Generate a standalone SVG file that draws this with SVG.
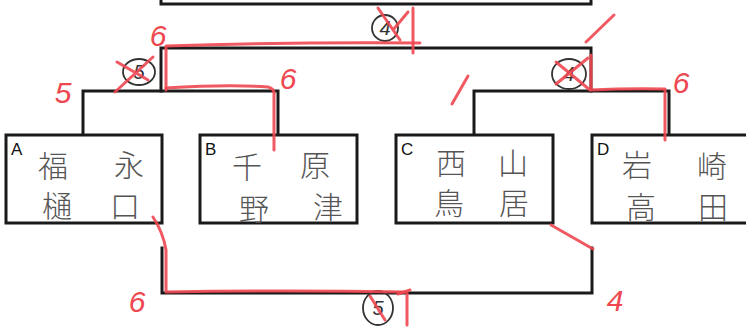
<svg xmlns="http://www.w3.org/2000/svg" width="746" height="329" viewBox="0 0 746 329">
<style>
.ln{fill:none;stroke:#1a1a1a;stroke-width:3;stroke-linecap:square}
.box{fill:#fff;stroke:#1a1a1a;stroke-width:3}
.lbl{font-family:"Liberation Sans",Arial,sans-serif;font-size:17px;fill:#111}
.kj{font-family:"Noto Sans CJK JP","Noto Sans CJK SC",sans-serif;font-weight:300;font-size:30px;fill:#555;text-anchor:middle}
.red{fill:none;stroke:#ee4750;stroke-width:3;stroke-linecap:round;stroke-linejoin:round;opacity:0.9}
.rn{font-family:"Liberation Sans",Arial,sans-serif;font-style:italic;font-size:30px;fill:#ee4750;text-anchor:middle}
.cn{font-family:"Liberation Sans",Arial,sans-serif;font-style:italic;font-size:20px;fill:#333;text-anchor:middle}
.cc{fill:none;stroke:#333;stroke-width:1.8}
</style>
<rect width="746" height="329" fill="#fff"/>
<g id="connectors">
<path class="ln" d="M161,0 V4 H591 V0"/>
<path class="ln" d="M161,91 V48 H591 V91"/>
<path class="ln" d="M83,135 V91 H278 V135"/>
<path class="ln" d="M474,135 V91 H669 V135"/>
<path class="ln" d="M162,248 V293 H592 V248"/>
</g>
<g id="node-A">
<rect class="box" x="6" y="135" width="156" height="88"/>
<text class="lbl" x="11" y="155">A</text>
<text class="kj" x="53" y="177">福</text>
<text class="kj" x="129" y="176">永</text>
<text class="kj" x="57" y="217">樋</text>
<text class="kj" x="125" y="217">口</text>
</g>
<g id="node-B">
<rect class="box" x="200" y="135" width="157" height="88"/>
<text class="lbl" x="205" y="155">B</text>
<text class="kj" x="247" y="178">千</text>
<text class="kj" x="315" y="176">原</text>
<text class="kj" x="254" y="220">野</text>
<text class="kj" x="328" y="218">津</text>
</g>
<g id="node-C">
<rect class="box" x="396" y="135" width="157" height="88"/>
<text class="lbl" x="401" y="155">C</text>
<text class="kj" x="451" y="174">西</text>
<text class="kj" x="513" y="174">山</text>
<text class="kj" x="449" y="214">鳥</text>
<text class="kj" x="514" y="214">居</text>
</g>
<g id="node-D">
<rect class="box" x="592" y="135" width="170" height="88"/>
<text class="lbl" x="597" y="155">D</text>
<text class="kj" x="637" y="176">岩</text>
<text class="kj" x="712" y="177">崎</text>
<text class="kj" x="641" y="218">高</text>
<text class="kj" x="713" y="218">田</text>
</g>
<g id="circled">
<ellipse class="cc" cx="139" cy="72" rx="16" ry="13"/>
<text class="cn" x="139" y="79">5</text>
<ellipse class="cc" cx="385" cy="28" rx="13" ry="13"/>
<text class="cn" x="385" y="35">4</text>
<ellipse class="cc" cx="569" cy="74" rx="17" ry="15"/>
<text class="cn" x="569" y="81">4</text>
<ellipse class="cc" cx="378" cy="308" rx="15" ry="17"/>
<text class="cn" x="378" y="315">5</text>
</g>
<g id="red-marks">
<path class="red" d="M166,90 V46 Q290,42 420,43"/>
<path class="red" d="M166,88 Q230,84 268,87 Q275,89 274,95 V150"/>
<path class="red" d="M591,55 V90 Q630,88 665,89 V140"/>
<path class="red" d="M153,217 Q163,232 166,250 V292 Q290,290 405,292"/>
<path class="red" d="M551,225 L593,249"/>
<path class="red" d="M115,92 L153,57 M117,62 L148,80"/>
<path class="red" d="M378,8 L400,40 M393,30 L408,12 M413,8 V53"/>
<path class="red" d="M556,62 L590,90 M556,84 L588,58"/>
<path class="red" d="M370,296 L385,320 M407,292 V325 M398,294 L410,290"/>
<path class="red" d="M586,42 L614,15"/>
<path class="red" d="M468,76 L452,104"/>
<text class="rn" x="158" y="46">6</text>
<text class="rn" x="63" y="103">5</text>
<text class="rn" x="288" y="89">6</text>
<text class="rn" x="681" y="93">6</text>
<text class="rn" x="137" y="312">6</text>
<text class="rn" x="615" y="311">4</text>
</g>
</svg>
